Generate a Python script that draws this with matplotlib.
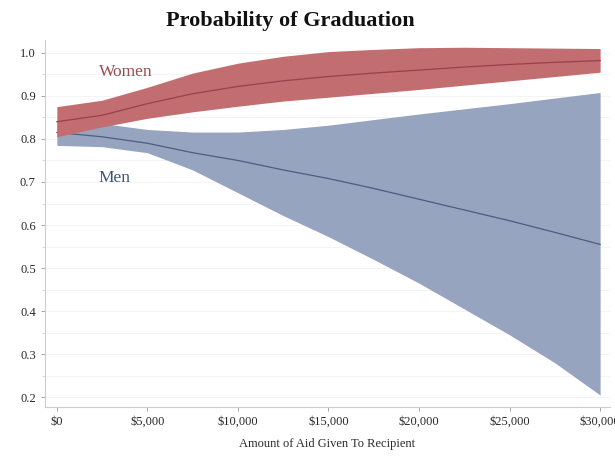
import numpy as np
import matplotlib.pyplot as plt
from matplotlib.ticker import FuncFormatter, MultipleLocator

# Сумма помощи, $
aid = [0, 2500, 5000, 7500, 10000, 12500, 15000, 17500, 20000, 22500, 25000, 27500, 30000]

# Женщины: оценка и доверительный интервал
women_mid = [0.840, 0.855, 0.882, 0.905, 0.922, 0.935, 0.945, 0.953, 0.960, 0.967, 0.973, 0.978, 0.982]
women_lo = [0.805, 0.828, 0.848, 0.863, 0.876, 0.888, 0.897, 0.906, 0.915, 0.925, 0.935, 0.945, 0.955]
women_hi = [0.875, 0.890, 0.920, 0.953, 0.976, 0.992, 1.003, 1.008, 1.012, 1.013, 1.012, 1.011, 1.010]

# Мужчины: оценка и доверительный интервал
men_mid = [0.815, 0.805, 0.790, 0.768, 0.750, 0.728, 0.708, 0.685, 0.660, 0.635, 0.610, 0.583, 0.555]
men_lo = [0.785, 0.782, 0.768, 0.728, 0.675, 0.622, 0.573, 0.520, 0.465, 0.405, 0.345, 0.280, 0.205]
men_hi = [0.840, 0.836, 0.822, 0.816, 0.816, 0.822, 0.832, 0.845, 0.858, 0.870, 0.882, 0.895, 0.908]

y_ticks = [0.2, 0.3, 0.4, 0.5, 0.6, 0.7, 0.8, 0.9, 1.0]
x_ticks = [0, 5000, 10000, 15000, 20000, 25000, 30000]

plt.rcParams["font.family"] = ["Liberation Serif", "DejaVu Serif"]

fig = plt.figure(figsize=(6.15, 4.59), dpi=100)
ax = fig.add_axes([0.073, 0.113, 0.919, 0.80])

ax.fill_between(aid, men_lo, men_hi, color="#97a4c0", lw=0, zorder=2)
ax.plot(aid, men_mid, color="#4c5c82", lw=0.9, zorder=3)
ax.fill_between(aid, women_lo, women_hi, color="#c26e71", lw=0, zorder=4)
ax.plot(aid, women_mid, color="#9c3f48", lw=0.9, zorder=5)

ax.text(2300, 0.955, "Women", color="#9a4a52", fontsize=12.5, va="center", zorder=6)
ax.text(2300, 0.710, "Men", color="#3d5577", fontsize=12.5, va="center", zorder=6)

ax.set_xlim(-660, 30550)
ax.set_ylim(0.177, 1.03)
ax.set_xticks(x_ticks)
ax.xaxis.set_major_formatter(FuncFormatter(lambda v, p: f"${v:,.0f}"))
ax.set_yticks(y_ticks)
ax.yaxis.set_major_formatter(FuncFormatter(lambda v, p: f"{v:.1f}"))
ax.yaxis.set_minor_locator(MultipleLocator(0.05))
ax.tick_params(axis="both", labelsize=9, colors="#999999", labelcolor="#2a2a2a", length=3, width=0.6)
ax.tick_params(axis="y", which="minor", length=2, width=0.5, colors="#cccccc")

ax.grid(True, axis="y", which="both", color="#f3f3f3", lw=0.6, zorder=0)
for side in ["top", "right"]:
    ax.spines[side].set_visible(False)
for side in ["left", "bottom"]:
    ax.spines[side].set_color("#cccccc")
    ax.spines[side].set_linewidth(0.8)

ax.set_xlabel("Amount of Aid Given To Recipient", fontsize=9, color="#2a2a2a", labelpad=7)
fig.text(0.472, 0.955, "Probability of Graduation", fontsize=16, fontweight="bold",
         ha="center", va="center", color="#111111")

fig.savefig("out.png", dpi=100)
